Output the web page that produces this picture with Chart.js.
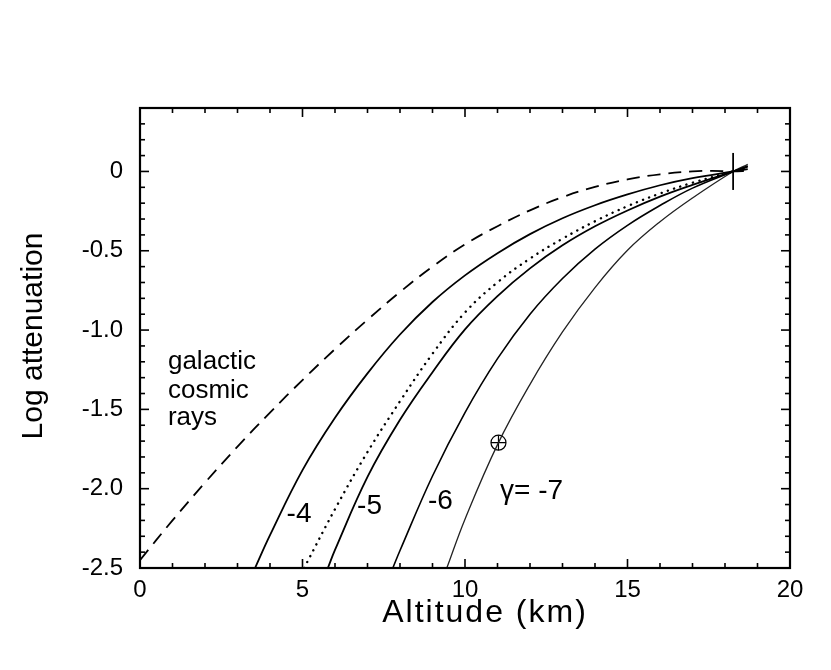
<!DOCTYPE html>
<html>
<head>
<meta charset="utf-8">
<title>Log attenuation vs altitude</title>
<script src="https://cdn.jsdelivr.net/npm/chart.js@4.4.1/dist/chart.umd.min.js"></script>
<style>
    html, body { margin: 0; padding: 0; background: #fff; }
    #wrap { width: 831px; height: 670px; }
</style>
</head>
<body>
<div id="wrap"><canvas id="atten-chart" width="831" height="670"></canvas></div>
<script>
// Values: altitude (km) and log attenuation
var crAlt  = [0, 1, 2, 3, 4, 5, 6, 7, 8, 9, 10, 11, 12, 13, 14, 15, 16, 17, 17.6, 18.25, 18.7];
var crLog  = [-2.45, -2.2, -1.962, -1.735, -1.52, -1.315, -1.12, -0.935, -0.76, -0.6, -0.46, -0.345, -0.245, -0.162, -0.097, -0.05, -0.018, 0, 0.004, 0, 0.005];

var g4Alt  = [3.54, 4, 5, 6, 7, 8, 9, 10, 11, 12, 13, 14, 15, 16, 17, 18.25, 18.7];
var g4Log  = [-2.5, -2.293, -1.883, -1.553, -1.273, -1.028, -0.823, -0.655, -0.515, -0.395, -0.295, -0.213, -0.145, -0.087, -0.042, 0, 0.015];

var dotAlt = [5.05, 6, 7, 8, 9, 10, 11, 12, 13, 14, 15, 16, 17, 18.25, 18.7];
var dotLog = [-2.5, -2.129, -1.769, -1.449, -1.149, -0.889, -0.699, -0.549, -0.424, -0.314, -0.219, -0.139, -0.071, 0, 0.025];

var g5Alt  = [5.78, 6, 7, 8, 9, 10, 11, 12, 13, 14, 15, 16, 17, 18.25, 18.7];
var g5Log  = [-2.5, -2.386, -1.926, -1.566, -1.266, -0.996, -0.786, -0.611, -0.466, -0.346, -0.246, -0.159, -0.085, 0, 0.03];

var g6Alt  = [7.78, 8, 9, 10, 11, 12, 13, 14, 15, 16, 17, 18.25, 18.7];
var g6Log  = [-2.5, -2.39, -1.92, -1.52, -1.18, -0.9, -0.675, -0.49, -0.34, -0.215, -0.105, 0, 0.035];

var g7Alt  = [9.44, 10, 11, 12, 13, 14, 15, 16, 17, 18.25, 18.7];
var g7Log  = [-2.5, -2.192, -1.722, -1.342, -1.012, -0.732, -0.497, -0.317, -0.167, 0, 0.045];

// marked points: circled cross on the -7 curve, and the normalisation point
var sunAlt   = [11.03];
var sunLog   = [-1.71];
var pivotAlt = [18.25];
var pivotLog = [0];

// axis labels
var xTickLabels = ['0', '5', '10', '15', '20'];
var yTickLabels = ['0', '-0.5', '-1.0', '-1.5', '-2.0', '-2.5'];

(function() {
    'use strict';

    var FONT = '"Liberation Sans", Arial, Helvetica, sans-serif';
    Chart.defaults.font.family = FONT;
    Chart.defaults.color = '#000';

    function pairs(xs, ys) {
        return xs.map(function(x, i) { return { x: x, y: ys[i] }; });
    }

    function curve(xs, ys, width, extra) {
        var ds = {
            data: pairs(xs, ys),
            borderColor: '#000',
            borderWidth: width,
            pointRadius: 0,
            fill: false,
            tension: 0.4
        };
        for (var k in extra) { ds[k] = extra[k]; }
        return ds;
    }

    // text written inside the plot, placed in data units
    var notes = [
        { text: 'galactic', x: 0.86, y: -1.248, size: 26 },
        { text: 'cosmic',   x: 0.86, y: -1.427, size: 26 },
        { text: 'rays',     x: 0.86, y: -1.600, size: 26 },
        { text: '-4',       x: 4.51, y: -2.209, size: 28 },
        { text: '-5',       x: 6.68, y: -2.158, size: 28 },
        { text: '-6',       x: 8.86, y: -2.127, size: 28 },
        { text: '\u03b3= -7', x: 11.08, y: -2.064, size: 28 }
    ];

    var framePlugin = {
        id: 'frameTicks',
        afterDraw: function(chart) {
            var ctx = chart.ctx;
            var a = chart.chartArea;
            var xs = chart.scales.x, ys = chart.scales.y;

            function seg(x1, y1, x2, y2) {
                ctx.beginPath();
                ctx.moveTo(x1, y1);
                ctx.lineTo(x2, y2);
                ctx.stroke();
            }

            ctx.save();
            ctx.strokeStyle = '#000';
            ctx.lineWidth = 1.6;

            // inward ticks on all four sides
            xs.ticks.forEach(function(t) {
                var px = xs.getPixelForValue(t.value);
                var len = Math.round(t.value) % 5 === 0 ? 9 : 5;
                seg(px, a.bottom, px, a.bottom - len);
                seg(px, a.top, px, a.top + len);
            });
            ys.ticks.forEach(function(t) {
                var py = ys.getPixelForValue(t.value);
                var len = Math.round(t.value * 10) % 5 === 0 ? 9 : 5;
                seg(a.left, py, a.left + len, py);
                seg(a.right, py, a.right - len, py);
            });

            ctx.lineWidth = 2.2;
            ctx.strokeRect(a.left, a.top, a.right - a.left, a.bottom - a.top);

            // annotations
            ctx.fillStyle = '#000';
            ctx.textAlign = 'left';
            ctx.textBaseline = 'alphabetic';
            notes.forEach(function(n) {
                ctx.font = n.size + 'px ' + FONT;
                ctx.fillText(n.text, xs.getPixelForValue(n.x), ys.getPixelForValue(n.y));
            });

            // axis titles
            ctx.font = '32px ' + FONT;
            ctx.textAlign = 'center';
            ctx.letterSpacing = '2px';
            ctx.fillText('Altitude (km)', 485, 622);
            ctx.letterSpacing = '0px';

            ctx.translate(42, 336);
            ctx.rotate(-Math.PI / 2);
            ctx.font = '30px ' + FONT;
            ctx.fillText('Log attenuation', 0, 0);
            ctx.restore();
        }
    };

    var ctx = document.getElementById('atten-chart').getContext('2d');

    new Chart(ctx, {
        type: 'line',
        data: {
            datasets: [
                curve(crAlt, crLog, 1.8, { borderDash: [13, 8] }),
                curve(g4Alt, g4Log, 1.8),
                curve(dotAlt, dotLog, 2.4, { borderDash: [0.1, 6.5], borderCapStyle: 'round' }),
                curve(g5Alt, g5Log, 1.8),
                curve(g6Alt, g6Log, 1.6),
                curve(g7Alt, g7Log, 1.3, { borderColor: '#222' }),
                {
                    data: pairs(sunAlt, sunLog),
                    showLine: false,
                    pointStyle: 'circle',
                    pointRadius: 7.5,
                    pointBorderWidth: 1.2,
                    pointBorderColor: '#000',
                    pointBackgroundColor: 'rgba(0,0,0,0)'
                },
                {
                    data: pairs(sunAlt, sunLog),
                    showLine: false,
                    pointStyle: 'cross',
                    pointRadius: 7.5,
                    pointBorderWidth: 1.2,
                    pointBorderColor: '#000'
                },
                {
                    data: pairs(pivotAlt, pivotLog),
                    showLine: false,
                    pointStyle: 'line',
                    rotation: 90,
                    pointRadius: 18.5,
                    pointBorderWidth: 1.8,
                    pointBorderColor: '#000'
                }
            ]
        },
        options: {
            responsive: false,
            animation: false,
            layout: { padding: { top: 108, right: 41, bottom: 0, left: 0 } },
            plugins: {
                legend: { display: false },
                tooltip: { enabled: false }
            },
            scales: {
                x: {
                    type: 'linear',
                    min: 0,
                    max: 20,
                    grid: { display: false, drawTicks: false },
                    border: { display: false },
                    ticks: {
                        stepSize: 1,
                        autoSkip: false,
                        maxRotation: 0,
                        padding: 8,
                        font: { size: 24 },
                        callback: function(v) {
                            var r = Math.round(v);
                            return r % 5 === 0 ? xTickLabels[r / 5] : '';
                        }
                    },
                    afterFit: function(scale) { scale.height = 102; }
                },
                y: {
                    type: 'linear',
                    min: -2.5,
                    max: 0.4,
                    grid: { display: false, drawTicks: false },
                    border: { display: false },
                    ticks: {
                        stepSize: 0.1,
                        autoSkip: false,
                        padding: 17,
                        font: { size: 24 },
                        callback: function(v) {
                            var r = Math.round(v * 10);
                            if (r % 5 !== 0 || r > 0) { return ''; }
                            return yTickLabels[-r / 5];
                        }
                    },
                    afterFit: function(scale) { scale.width = 140; }
                }
            }
        },
        plugins: [framePlugin]
    });
})();
</script>
</body>
</html>
